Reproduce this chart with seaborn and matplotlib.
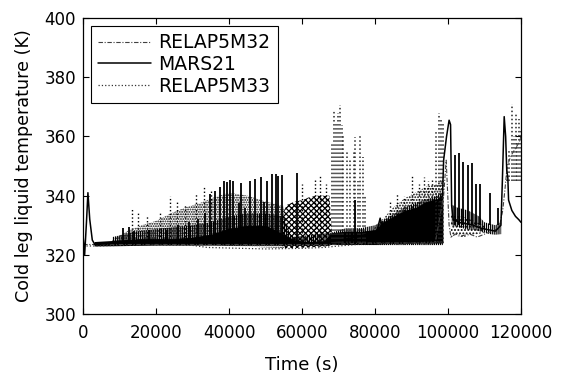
import numpy as np
import pandas as pd
import seaborn as sns
import matplotlib.pyplot as plt

# --- data (time in s, temperature in K) ---
# MARS21 slow trace
mars_t = [0, 400, 900, 1300, 1800, 2500, 3200, 10000, 20000, 30000, 40000, 50000,
          60000, 68000, 75000, 80500, 81400, 82300, 88000, 94000, 98500, 98800,
          99600, 100300, 100700, 101000, 101400, 103000, 105000, 107000, 109000,
          111000, 113000, 114500, 114900, 115400, 115800, 116100, 116400, 116600,
          117500, 118500, 119400, 120000]
mars_T = [326, 320, 331, 341, 332, 325, 323.5, 324, 324.5, 325, 326, 326,
          324, 324.5, 326, 328, 332.4, 328, 330, 333, 340, 352,
          360, 365.5, 364, 336.6, 332, 331, 330.5, 330, 329,
          328.5, 328, 330, 345, 366.7, 360, 348.6, 346, 338.5,
          335, 333, 331.9, 331]

# MARS21 oscillation envelopes: dense core and striped upper part
mars_core_t = [3000, 10000, 15000, 20000, 25000, 30000, 35000, 40000, 45000, 50000,
               55000, 58000, 62000, 66000, 68000, 72000, 76000, 80000, 82000, 85000,
               88000, 91000, 94000, 97000, 98600]
mars_core_lo = [323.0, 323.1, 323.2, 323.3, 323.3, 323.3, 323.3, 323.3, 323.3, 323.3,
                323.3, 323.3, 323.3, 323.3, 323.5, 323.5, 323.5, 323.5, 323.7, 323.8,
                323.8, 324.0, 324.0, 324.0, 324.0]
mars_core_hi = [324.5, 325, 325.5, 325.5, 325.5, 326, 327, 329, 330, 330,
                327, 325, 324.5, 324.5, 327.5, 328, 328, 328.5, 331, 333,
                335, 336, 338, 339, 340]
mars_strp_t = [8000, 15000, 22000, 30000, 35000, 40000, 45000, 50000, 55000, 57000,
               68000, 72000, 76000, 80000, 84000, 88000, 92000, 96000, 98600]
mars_strp_hi = [326, 328, 329, 330, 331, 333, 334, 334, 333, 326,
                327.5, 329, 329, 330, 333, 336, 338, 339.5, 341]
mars_band2_t = [101000, 102500, 104000, 105500, 107000, 108500, 110000, 111500, 113000, 114600]
mars_band2_lo = [330, 329.5, 329, 328.5, 328.5, 328, 327.5, 327, 326.8, 327]
mars_band2_hi = [337, 336, 335.5, 335, 334, 333, 331, 330.5, 330, 331]

# MARS21 spikes
mars_spk_t = [11000, 12500, 14000, 18000, 23000, 26000, 29000, 31500, 33500,
              34800, 36000, 37600, 38500, 39500, 40300, 41100, 42800, 43200, 44300,
              45600, 47100, 48700, 49600, 50500, 51800, 52800, 53300, 54500, 58700,
              74500,
              101900, 103100, 104200, 105600, 106700, 107800, 108800, 111500, 113800]
mars_spk_T = [329, 329.5, 328, 328.5, 328.5, 330, 331, 332, 334,
              340.5, 341.5, 343, 345, 344.5, 345.3, 344.8, 337.5, 344.4, 336,
              345, 345.6, 346.4, 338, 345, 347.3, 347.3, 346.5, 347, 347.5,
              338.5,
              353.7, 354.4, 351.5, 350.4, 351, 344, 344, 340.8, 336]
mars_spk_base = [323.5] * 30 + [330] * 9

# RELAP5M32 trace and spikes
r32_t = [0, 68000, 77500, 96500, 98800, 99500, 100300, 100800, 102000, 104000, 106000,
         108000, 110000, 112000, 114000, 115000, 115600, 116200, 116800, 117500,
         118500, 119500, 120000]
r32_T = [323.5, 323.5, 324, 324, 340, 352, 330, 326, 327, 326.5, 327,
         326, 327, 328, 329, 335, 342, 349.8, 352, 354,
         356, 358, 360]
r32_spk_t = [68100, 68700, 69300, 69900, 70500, 71000, 71300, 72300, 73000, 74100,
             74600, 75200, 75900, 76800, 77300, 96800, 97500, 98200, 98600,
             116200, 116800, 117500, 118000, 118500, 119000, 119500, 120000]
r32_spk_T = [358, 369, 365, 368, 370.6, 364, 360, 355, 352, 355,
             359.9, 345, 360, 353, 340, 362, 367.8, 366, 365,
             349.8, 355, 371, 360, 368, 358, 366, 362]
r32_spk_base = [324] * 19 + [345] * 8
r32_band_t = [100800, 102000, 104000, 106000, 108000, 110000]
r32_band_lo = [326, 326.5, 326, 326.5, 327, 327.5]
r32_band_hi = [334, 333, 333, 332, 331, 330]

# RELAP5M33 trace, scatter bands and spikes
r33_t = [0, 3000, 10000, 20000, 30000, 34000, 40000, 50000, 60000, 66000, 70000,
         75000, 80000, 90000, 98500]
r33_T = [323, 323, 323.2, 323.3, 323.2, 322.5, 322.3, 322.0, 322.2, 322.5, 323,
         323.5, 323.8, 324, 324.5]
r33_band_t = [8000, 12000, 16000, 20000, 24000, 28000, 32000, 36000, 40000, 45000,
              50000, 55000]
r33_band_lo = [323.5, 323.5, 323.5, 323.5, 323.5, 323.5, 323.5, 323.3, 323, 322.8,
               322.5, 322.3]
r33_band_hi = [325, 328, 330, 331.5, 334, 336, 337.5, 339.5, 341, 340,
               338, 336.5]
r33_mesh_t = [54500, 56000, 58000, 60000, 62000, 64000, 66000, 67500, 68200]
r33_mesh_lo = [322.3, 322.3, 322.3, 322.4, 322.5, 322.7, 322.8, 323, 323.5]
r33_mesh_hi = [334, 337, 338, 338.5, 339.5, 340, 340, 340, 327]
r33_band2_t = [79000, 82000, 85000, 88000, 91000, 94000, 97000, 98600]
r33_band2_lo = [324, 324, 324, 324, 324, 324, 324, 324]
r33_band2_hi = [328, 332, 336, 339, 341, 343, 344, 346]
r33_spk_t = [13300, 15000, 17500, 21000, 23800, 25600, 28000, 31000, 33000, 35000,
             60000, 63500, 65000, 66500, 84000, 86000, 88000, 90000, 92000, 93500,
             94500, 95500]
r33_spk_T = [335.8, 334, 333, 334.5, 340, 338, 337, 341, 343, 342,
             344, 346, 347, 344, 338, 341, 340, 347, 344, 346.4,
             345, 346]

sns.set_style("ticks")
plt.rcParams['font.family'] = ['DejaVu Sans']
plt.rcParams['text.color'] = 'black'
plt.rcParams['axes.labelcolor'] = 'black'
plt.rcParams['hatch.linewidth'] = 0.9

fig, ax = plt.subplots(figsize=(5.62, 3.77), dpi=100)
fig.subplots_adjust(left=0.148, right=0.927, bottom=0.167, top=0.952)

dashdot = (0, (4, 1.5, 1, 1.5))

# RELAP5M33 (dotted)
ax.fill_between(r33_band_t, r33_band_lo, r33_band_hi, facecolor='none',
                edgecolor='black', hatch='.......', linewidth=0)
ax.fill_between(r33_mesh_t, r33_mesh_lo, r33_mesh_hi, facecolor='none',
                edgecolor='black', hatch='xxxxxx', linewidth=0)
ax.fill_between(r33_band2_t, r33_band2_lo, r33_band2_hi, facecolor='none',
                edgecolor='black', hatch='......', linewidth=0)
ax.vlines(r33_spk_t, 323.5, r33_spk_T, colors='black', linestyles=':', linewidth=1.0)
sns.lineplot(x=r33_t, y=r33_T, ax=ax, color='0.2', linestyle=':', linewidth=0.9,
             estimator=None, sort=False, label='RELAP5M33')

# RELAP5M32 (dash-dot)
ax.fill_between(r32_band_t, r32_band_lo, r32_band_hi, facecolor='none',
                edgecolor='black', hatch='.....', linewidth=0)
ax.vlines(r32_spk_t, r32_spk_base, r32_spk_T, colors='0.15', linestyles=':', linewidth=1.1)
sns.lineplot(x=r32_t, y=r32_T, ax=ax, color='0.25', linestyle=dashdot, linewidth=0.8,
             estimator=None, sort=False, label='RELAP5M32')

# MARS21 (solid)
ax.fill_between(mars_strp_t, 323.3, mars_strp_hi, facecolor='none',
                edgecolor='black', hatch='||||||||', linewidth=0)
ax.fill_between(mars_core_t, mars_core_lo, mars_core_hi, color='black', linewidth=0)
ax.fill_between(mars_band2_t, mars_band2_lo, mars_band2_hi, facecolor='none',
                edgecolor='black', hatch='||||||||', linewidth=0)
ax.vlines(mars_spk_t, mars_spk_base, mars_spk_T, colors='black', linewidth=1.3)
sns.lineplot(x=mars_t, y=mars_T, ax=ax, color='black', linewidth=1.1,
             estimator=None, sort=False, label='MARS21')

ax.set_xlim(0, 120000)
ax.set_ylim(300, 400)
ax.set_xticks([0, 20000, 40000, 60000, 80000, 100000, 120000])
ax.set_yticks([300, 320, 340, 360, 380, 400])
ax.tick_params(direction='in', length=4, width=0.8, labelsize=12, colors='black',
               labelcolor='black', top=True, right=True)
ax.tick_params(axis='x', pad=7)
ax.tick_params(axis='y', pad=5)
for s in ax.spines.values():
    s.set_linewidth(0.9)
    s.set_color('black')
ax.set_xlabel('Time (s)', fontsize=13, labelpad=10, color='black')
ax.set_ylabel('Cold leg liquid temperature (K)', fontsize=12.6, labelpad=8, color='black')

handles, labels = ax.get_legend_handles_labels()
order = [labels.index(n) for n in ['RELAP5M32', 'MARS21', 'RELAP5M33']]
leg = ax.legend([handles[i] for i in order], [labels[i] for i in order],
                loc='upper left', fontsize=13.5, frameon=True, fancybox=False,
                edgecolor='black', framealpha=1, handlelength=2.8, handletextpad=0.4,
                borderaxespad=0.4, labelspacing=0.15, borderpad=0.4, labelcolor='black')
leg.get_frame().set_linewidth(0.8)

plt.savefig('out.png', dpi=100)
